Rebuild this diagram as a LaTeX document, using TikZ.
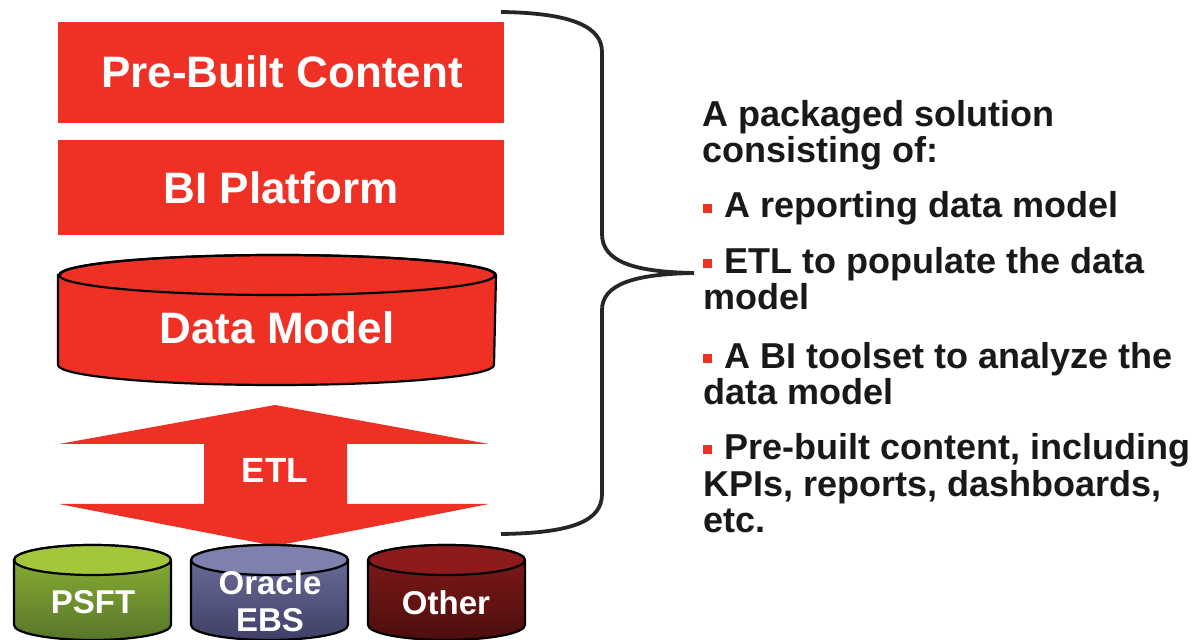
\documentclass[tikz,border=0pt]{standalone}
\usepackage{fontspec}
\setmainfont{Liberation Sans}
\definecolor{oraRed}{HTML}{EE3124}
\definecolor{psftTop}{HTML}{A2C63C}
\definecolor{psftHi}{HTML}{8DB536}
\definecolor{psftLo}{HTML}{587629}
\definecolor{ebsTop}{HTML}{7E80AE}
\definecolor{ebsHi}{HTML}{7072A0}
\definecolor{ebsLo}{HTML}{3E4066}
\definecolor{othTop}{HTML}{8E1B1B}
\definecolor{othHi}{HTML}{861A1A}
\definecolor{othLo}{HTML}{4C0E0E}
\begin{document}
\begin{tikzpicture}[x=0.5pt,y=-0.5pt,
  redbox/.style={fill=oraRed,draw=none,minimum width=223pt,inner sep=0pt},
  whitelbl/.style={text=white,font=\bfseries\fontsize{22}{24}\selectfont,inner sep=0pt},
  cyllbl/.style={text=white,font=\bfseries\fontsize{16.5}{18}\selectfont,inner sep=0pt,align=center},
  cylline/.style={draw=black,line width=1.1pt},
  desc/.style={anchor=base west,align=left,inner sep=0pt,font=\bfseries\fontsize{18}{18.4}\selectfont,text=black!90},
  bracestyle/.style={draw=black!85,line width=1.9pt}
]
\useasboundingbox (0,0) rectangle (1200,640);

% top boxes
\node[redbox,minimum height=50.5pt] (pbc) at (281,72.5) {};
\node[whitelbl] (pbct) at (282,72) {Pre-Built Content};
\node[redbox,minimum height=47.5pt] (bip) at (281,187.5) {};
\node[whitelbl] (bipt) at (281,188) {BI Platform};

% data model cylinder
\path[fill=oraRed,cylline] (58,275) -- (58,365)
  arc[start angle=180,end angle=360,x radius=109pt,y radius=10pt]
  -- (496,275)
  arc[start angle=0,end angle=180,x radius=109pt,y radius=10pt] -- cycle;
\draw[cylline] (277,275) ellipse[x radius=109pt,y radius=10pt];
\node[whitelbl] (dm) at (277,328) {Data Model};

% ETL double arrow
\fill[oraRed] (275,405) -- (489,444) -- (347,444) -- (347,504) -- (489,504)
  -- (275,546) -- (59,504) -- (204,504) -- (204,444) -- (59,444) -- cycle;
\node[text=white,font=\bfseries\fontsize{17.5}{19}\selectfont,inner sep=0pt] (etl) at (275,470) {ETL};

% source cylinders
\path[top color=psftHi,bottom color=psftLo,cylline] (14,560) -- (14,625)
  arc[start angle=180,end angle=360,x radius=39.25pt,y radius=7.5pt]
  -- (171,560) arc[start angle=0,end angle=180,x radius=39.25pt,y radius=7.5pt] -- cycle;
\draw[cylline,fill=psftTop] (92.5,560) ellipse[x radius=39.25pt,y radius=7.5pt];
\node[cyllbl] (psft) at (93,602) {PSFT};

\path[top color=ebsHi,bottom color=ebsLo,cylline] (191,560) -- (191,625)
  arc[start angle=180,end angle=360,x radius=39.25pt,y radius=7.5pt]
  -- (348,560) arc[start angle=0,end angle=180,x radius=39.25pt,y radius=7.5pt] -- cycle;
\draw[cylline,fill=ebsTop] (269.5,560) ellipse[x radius=39.25pt,y radius=7.5pt];
\node[cyllbl,font=\bfseries\fontsize{16.5}{18.5}\selectfont] (ebs) at (270,601) {Oracle\\EBS};

\path[top color=othHi,bottom color=othLo,cylline] (368,560) -- (368,625)
  arc[start angle=180,end angle=360,x radius=39.25pt,y radius=7.5pt]
  -- (525,560) arc[start angle=0,end angle=180,x radius=39.25pt,y radius=7.5pt] -- cycle;
\draw[cylline,fill=othTop] (446.5,560) ellipse[x radius=39.25pt,y radius=7.5pt];
\node[cyllbl] (other) at (446,603) {Other};

% brace
\coordinate (btop) at (501,12);
\coordinate (btip) at (694,273);
\coordinate (bbot) at (501,534);
\draw[bracestyle] (btop) .. controls (575,13) and (602,28) .. (602,52)
  -- (602,234) .. controls (602,262) and (635,272) .. (btip)
  .. controls (635,274) and (602,284) .. (602,310)
  -- (602,494) .. controls (602,520) and (575,533) .. (bbot);

% description (anchor = baseline of the last line)
\newcommand{\redbul}{{\color{oraRed}\rule[2.5pt]{4.5pt}{4.5pt}}\hspace{6pt}}
\node[desc] (d0) at (702,163) {A packaged solution\\consisting of:};
\node[desc] (d1) at (703,218) {\redbul A reporting data model};
\node[desc] (d2) at (703,310) {\redbul ETL to populate the data\\model};
\node[desc] (d3) at (703,405) {\redbul A BI toolset to analyze the\\data model};
\node[desc] (d4) at (703,533) {\redbul Pre-built content, including\\KPIs, reports, dashboards,\\etc.};
\end{tikzpicture}
\end{document}
